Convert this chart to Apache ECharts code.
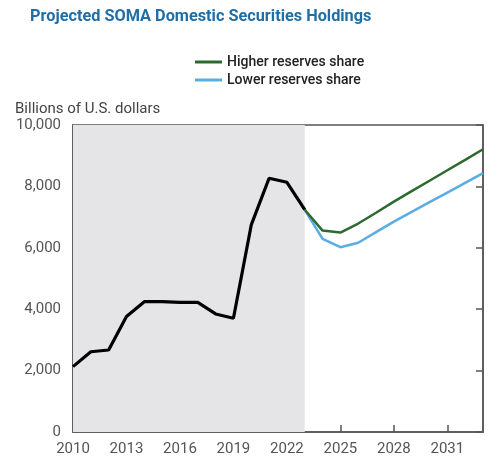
<!DOCTYPE html>
<html><head><meta charset="utf-8">
<script src="https://cdn.jsdelivr.net/npm/echarts@6/dist/echarts.min.js"></script>
<style>html,body{margin:0;padding:0;background:#fff}#c{width:500px;height:473px}</style>
</head><body><div id="c"></div>
<script>
const histYears = [2010,2011,2012,2013,2014,2015,2016,2017,2018,2019,2020,2021,2022,2023];
const histValues = [2130,2615,2670,3760,4245,4245,4225,4225,3845,3705,6745,8265,8135,7240];
const projYears = [2023,2024,2025,2026,2027,2028,2029,2030,2031,2032,2033];
const higherShare = [7240,6560,6495,6790,7140,7505,7845,8185,8525,8865,9210];
const lowerShare = [7240,6290,6020,6165,6510,6855,7170,7485,7800,8115,8430];
const shadeRange = [2010, 2023];
const xTicks = [2010,2013,2016,2019,2022,2025,2028,2031];
const yTicks = [0,2000,4000,6000,8000,10000];

const zip = (xs, ys) => xs.map((x, i) => [x, ys[i]]);
const font = 'Roboto, "Noto Sans", sans-serif';
const chart = echarts.init(document.getElementById('c'), null, {renderer: 'canvas'});
chart.setOption({
  animation: false,
  title: {
    text: 'Projected SOMA Domestic Securities Holdings',
    left: 25, top: 4,
    textStyle: {fontFamily: font, fontSize: 16.3, fontWeight: 'bold', color: '#1f6ea6'}
  },
  legend: {
    orient: 'vertical', left: 190, top: 50,
    itemWidth: 27, itemHeight: 3, itemGap: 4,
    icon: 'rect',
    textStyle: {fontFamily: font, fontSize: 14, color: '#222', fontWeight: 500},
    data: ['Higher reserves share', 'Lower reserves share']
  },
  grid: {left: 73, right: 17, top: 125, bottom: 41, show: true, borderColor: '#555', borderWidth: 1.5, backgroundColor: 'transparent'},
  xAxis: {
    type: 'value', min: 2010, max: 2033, interval: 3,
    axisLine: {show: true, lineStyle: {color: '#555', width: 1.5}},
    axisTick: {show: true, inside: true, length: 7, lineStyle: {color: '#555', width: 1.5},
      customValues: xTicks.slice(1)},
    axisLabel: {fontFamily: font, fontSize: 15, color: '#555', margin: 10,
      customValues: xTicks, formatter: v => String(v)},
    splitLine: {show: false}
  },
  yAxis: [{
    type: 'value', min: 0, max: 10000, interval: 2000,
    name: 'Billions of U.S. dollars', nameLocation: 'end', nameGap: 8,
    nameTextStyle: {fontFamily: font, fontSize: 15, color: '#444', align: 'left', padding: [0, 0, 0, -58]},
    axisLine: {show: true, lineStyle: {color: '#555', width: 1.5}},
    axisTick: {show: false},
    axisLabel: {fontFamily: font, fontSize: 15, color: '#555', margin: 12,
      formatter: v => v.toLocaleString('en-US')},
    splitLine: {show: false}
  }, {
    type: 'value', min: 0, max: 10000, interval: 2000, position: 'right',
    axisLine: {show: true, lineStyle: {color: '#555', width: 1.5}},
    axisTick: {show: true, inside: true, length: 7, lineStyle: {color: '#555', width: 1.5}},
    axisLabel: {show: false},
    splitLine: {show: false}
  }],
  series: [
    {
      name: 'Historical', type: 'line', data: zip(histYears, histValues),
      symbol: 'none', z: 3,
      lineStyle: {color: '#000', width: 3.2},
      markArea: {silent: true, itemStyle: {color: '#e5e5e7'},
        data: [[{xAxis: shadeRange[0]}, {xAxis: shadeRange[1]}]]}
    },
    {
      name: 'Lower reserves share', type: 'line', data: zip(projYears, lowerShare),
      symbol: 'none', color: '#5aade2', lineStyle: {color: '#5aade2', width: 2.5}, z: 2
    },
    {
      name: 'Higher reserves share', type: 'line', data: zip(projYears, higherShare),
      symbol: 'none', color: '#2d6a30', lineStyle: {color: '#2d6a30', width: 2.5}, z: 2
    }
  ]
});
</script></body></html>
